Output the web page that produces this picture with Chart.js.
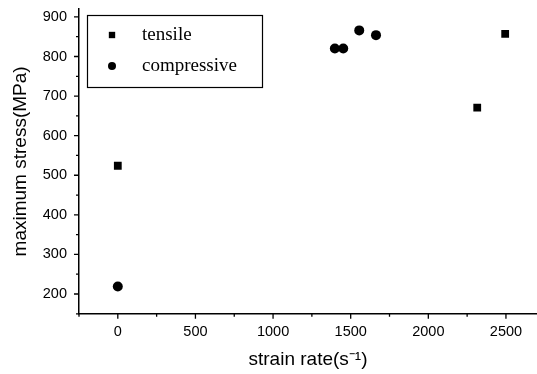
<!DOCTYPE html>
<html>
<head>
<meta charset="utf-8">
<script src="https://cdn.jsdelivr.net/npm/chart.js@4"></script>
<style>
  html, body { margin: 0; padding: 0; background: #fff; }
  #wrap { width: 537px; height: 374px; }
</style>
</head>
<body>
<div id="wrap"><canvas id="myChart" width="537" height="374"></canvas></div>
<script>
// data
const tensileRate = [0, 2315, 2495];
const tensileStress = [524, 671, 857];
const compRate = [0, 1398, 1452, 1555, 1663];
const compStress = [219, 820, 820, 866, 854];

const xTicks = [0, 500, 1000, 1500, 2000, 2500];
const xMinor = [-250, 250, 750, 1250, 1750, 2250, 2750];
const yTicks = [200, 300, 400, 500, 600, 700, 800, 900];
const yMinor = [150, 250, 350, 450, 550, 650, 750, 850];

function toPoints(xs, ys) {
  return xs.map((x, i) => ({ x: x, y: ys[i] }));
}

// draw the tick marks (major + minor) outside the axes
const tickMarks = {
  id: "tickMarks",
  afterDraw(chart) {
    const ctx = chart.ctx;
    const xs = chart.scales.x, ys = chart.scales.y;
    const area = chart.chartArea;
    ctx.save();
    ctx.strokeStyle = "#000";
    ctx.lineWidth = 1.3;
    ctx.beginPath();
    xTicks.forEach(v => {
      const px = xs.getPixelForValue(v);
      ctx.moveTo(px, area.bottom); ctx.lineTo(px, area.bottom + 5);
    });
    xMinor.forEach(v => {
      if (v < xs.min || v > xs.max) return;
      const px = xs.getPixelForValue(v);
      ctx.moveTo(px, area.bottom); ctx.lineTo(px, area.bottom + 3);
    });
    yTicks.forEach(v => {
      const py = ys.getPixelForValue(v);
      ctx.moveTo(area.left, py); ctx.lineTo(area.left - 5, py);
    });
    yMinor.forEach(v => {
      if (v < ys.min || v > ys.max) return;
      const py = ys.getPixelForValue(v);
      ctx.moveTo(area.left, py); ctx.lineTo(area.left - 3, py);
    });
    ctx.stroke();
    ctx.restore();
  }
};

// legend box in the upper left corner of the plot
const boxLegend = {
  id: "boxLegend",
  afterDraw(chart) {
    const ctx = chart.ctx;
    const left = 87, top = 15, w = 175, h = 72;
    ctx.save();
    ctx.fillStyle = "#fff";
    ctx.fillRect(left, top, w, h);
    ctx.strokeStyle = "#000";
    ctx.lineWidth = 1.2;
    ctx.strokeRect(left + 0.5, top + 0.5, w, h);
    ctx.font = "19px 'Liberation Serif', 'Times New Roman', serif";
    ctx.textBaseline = "alphabetic";
    ctx.fillStyle = "#000";
    chart.data.datasets.forEach((ds, i) => {
      const cy = top + 20 + i * 31;
      Chart.helpers.drawPoint(ctx, {
        pointStyle: ds.pointStyle,
        radius: ds.pointStyle === "rect" ? 4.5 : 4,
        borderWidth: 0
      }, left + 25, cy);
      ctx.fillText(ds.label, left + 55, cy + 5);
    });
    ctx.restore();
  }
};

const ctx = document.getElementById("myChart");

new Chart(ctx, {
  type: "scatter",
  data: {
    datasets: [
      {
        label: "tensile",
        data: toPoints(tensileRate, tensileStress),
        pointStyle: "rect",
        pointRadius: 5.5,
        backgroundColor: "#000",
        borderColor: "#000",
        borderWidth: 0
      },
      {
        label: "compressive",
        data: toPoints(compRate, compStress),
        pointStyle: "circle",
        pointRadius: 5,
        backgroundColor: "#000",
        borderColor: "#000",
        borderWidth: 0
      }
    ]
  },
  options: {
    responsive: false,
    animation: false,
    layout: { autoPadding: false, padding: { left: 9, top: 9, right: 0, bottom: 3 } },
    plugins: {
      legend: { display: false },
      tooltip: { enabled: false }
    },
    scales: {
      x: {
        type: "linear",
        min: -250,
        max: 2700,
        afterBuildTicks: s => { s.ticks = xTicks.map(v => ({ value: v })); },
        afterFit: s => { s.paddingLeft = 0; s.paddingRight = 0; },
        grid: { display: true, drawOnChartArea: false, drawTicks: false },
        border: { display: true, color: "#000", width: 1.5 },
        ticks: {
          color: "#000",
          padding: 9,
          maxRotation: 0,
          callback: v => String(v),
          font: { family: "'Liberation Sans', Arial, sans-serif", size: 14.5 }
        },
        title: {
          display: true,
          text: "strain rate(s\u207B\u00B9)",
          color: "#000",
          padding: { top: -1, bottom: 0 },
          font: { family: "'Liberation Sans', Arial, sans-serif", size: 19 }
        }
      },
      y: {
        type: "linear",
        min: 150,
        max: 920,
        afterBuildTicks: s => { s.ticks = yTicks.map(v => ({ value: v })); },
        afterFit: s => { s.paddingTop = 0; s.paddingBottom = 0; },
        grid: { display: true, drawOnChartArea: false, drawTicks: false },
        border: { display: true, color: "#000", width: 1.5 },
        ticks: {
          color: "#000",
          padding: 12,
          callback: v => String(v),
          font: { family: "'Liberation Sans', Arial, sans-serif", size: 14.5 }
        },
        title: {
          display: true,
          text: "maximum stress(MPa)",
          color: "#000",
          padding: { top: 0, bottom: -1 },
          font: { family: "'Liberation Sans', Arial, sans-serif", size: 19 }
        }
      }
    }
  },
  plugins: [tickMarks, boxLegend]
});
</script>
</body>
</html>
